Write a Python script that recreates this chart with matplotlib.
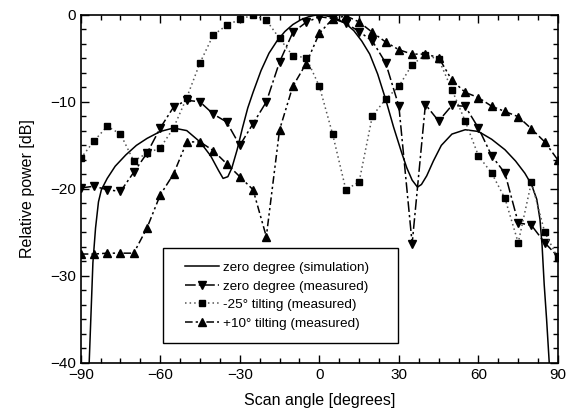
# -----------------------------
# Radiation pattern: relative power vs scan angle
# -----------------------------
import numpy as np
import matplotlib
matplotlib.use("Agg")
import matplotlib.pyplot as plt
from matplotlib.patches import Rectangle
from matplotlib.ticker import MultipleLocator, AutoMinorLocator

plt.rcParams['font.family'] = ['Liberation Sans', 'DejaVu Sans']

# -----------------------------
# (1) Data
# -----------------------------
# measured angles (every 5 degrees)
angles = list(range(-90, 95, 5))

zero_meas = [-19.9, -19.7, -20.1, -20.3, -18.1, -15.9, -13.0, -10.6, -9.8, -10.0,
             -11.4, -12.3, -15.0, -12.5, -10.0, -5.4, -2.0, -0.85, -0.2, -0.4,
             -0.95, -1.9, -3.0, -5.5, -10.5, -26.3, -10.3, -12.2, -10.4, -10.5,
             -13.0, -16.2, -18.2, -23.9, -24.2, -26.2, -27.8]

tilt_m25 = [-16.5, -14.5, -12.8, -13.7, -16.8, -15.9, -15.3, -13.0, -9.5, -5.5,
            -2.3, -1.2, -0.5, 0.0, -0.6, -2.7, -4.7, -4.9, -8.2, -13.7,
            -20.1, -19.2, -11.6, -9.7, -8.2, -5.7, -4.6, -5.1, -8.6, -12.2,
            -16.2, -18.2, -21.1, -26.2, -19.2, -25.0, -28.0]

tilt_p10 = [-27.5, -27.5, -27.4, -27.4, -27.4, -24.5, -20.7, -18.3, -14.6, -14.6,
            -15.6, -17.1, -18.6, -20.1, -25.5, -13.2, -8.2, -5.6, -2.1, -0.45,
            -0.1, -0.8, -2.0, -3.1, -4.0, -4.5, -4.5, -4.9, -7.5, -8.9,
            -9.5, -10.5, -11.1, -11.7, -13.1, -14.6, -16.7]

# simulated pattern
sim_angle = [-86.8, -85.4, -84.4, -83.3, -82.2, -80, -77, -73, -69, -65, -60, -55,
             -50, -45, -41, -38, -36.3, -34.5, -33, -31, -29, -27, -25, -22,
             -19, -16, -13, -10, -7, -4, -2, 0, 2, 4, 7, 10, 13, 16, 19, 22,
             25, 28, 31, 33, 35, 37, 38.5, 40.5, 43, 46, 50, 55, 60, 65, 70,
             74, 77.5, 80, 82, 83.2, 84, 84.8, 85.7, 86.7]
sim_power = [-40, -28.5, -24.5, -21.5, -20.1, -18.8, -17.4, -16.1, -15.0, -14.2,
             -13.4, -13.0, -13.3, -14.6, -16.2, -17.9, -18.8, -18.6, -17.6,
             -15.5, -13.0, -10.7, -8.9, -6.4, -4.4, -3.0, -1.9, -1.1, -0.55,
             -0.2, -0.05, 0.0, -0.05, -0.2, -0.5, -1.0, -1.8, -3.0, -4.5, -6.8,
             -9.7, -12.9, -15.8, -17.6, -19.0, -19.8, -19.5, -18.5, -16.8,
             -15.0, -13.7, -13.2, -13.4, -14.3, -15.5, -16.8, -18.2, -19.5,
             -21.2, -23.5, -26.5, -31.0, -35.0, -40]

labels = ["zero degree (simulation)", "zero degree (measured)",
          "-25° tilting (measured)", "+10° tilting (measured)"]

# -----------------------------
# (2) Figure
# -----------------------------
fig = plt.figure(figsize=(5.74, 4.12), dpi=100)
ax = fig.add_axes([0.1406, 0.1197, 0.8315, 0.8439])

ax.plot(sim_angle, sim_power, color='k', lw=1.1, label=labels[0])
ax.plot(angles, zero_meas, color='k', lw=1.1, ls=(0, (7, 2, 1.5, 2)),
        marker='v', ms=5.5, label=labels[1])
ax.plot(angles, tilt_m25, color='#555555', lw=1.1, ls=(0, (1, 2)),
        marker='s', ms=3.8, mfc='k', mec='k', label=labels[2])
ax.plot(angles, tilt_p10, color='k', lw=1.1, ls=(0, (5, 2, 1.5, 2, 1.5, 2)),
        marker='^', ms=5.5, label=labels[3])

ax.set_xlim(-90, 90)
ax.set_ylim(-40, 0)
ax.xaxis.set_major_locator(MultipleLocator(30))
ax.xaxis.set_minor_locator(AutoMinorLocator(4))
ax.yaxis.set_major_locator(MultipleLocator(10))
ax.yaxis.set_minor_locator(AutoMinorLocator(6))
ax.tick_params(which='both', direction='in', top=True, right=True,
               labelsize=11, width=1)
ax.tick_params(which='major', length=6)
ax.tick_params(which='minor', length=3.5)
for s in ax.spines.values():
    s.set_linewidth(1.2)

ax.set_xlabel("Scan angle [degrees]", fontsize=11.5, labelpad=8)
ax.set_ylabel("Relative power [dB]", fontsize=11.5, labelpad=11)

# legend box drawn by hand, legend itself without frame
ax.add_patch(Rectangle((0.172, 0.0575), 0.493, 0.2725, transform=ax.transAxes,
                       facecolor='white', edgecolor='k', lw=1, zorder=5))
leg = ax.legend(loc='upper left', bbox_to_anchor=(0.205, 0.31), frameon=False,
                fontsize=9.7, borderpad=0, handlelength=2.5, handletextpad=0.3,
                labelspacing=0.45)
leg.set_zorder(6)

fig.savefig("out.png", dpi=100)
